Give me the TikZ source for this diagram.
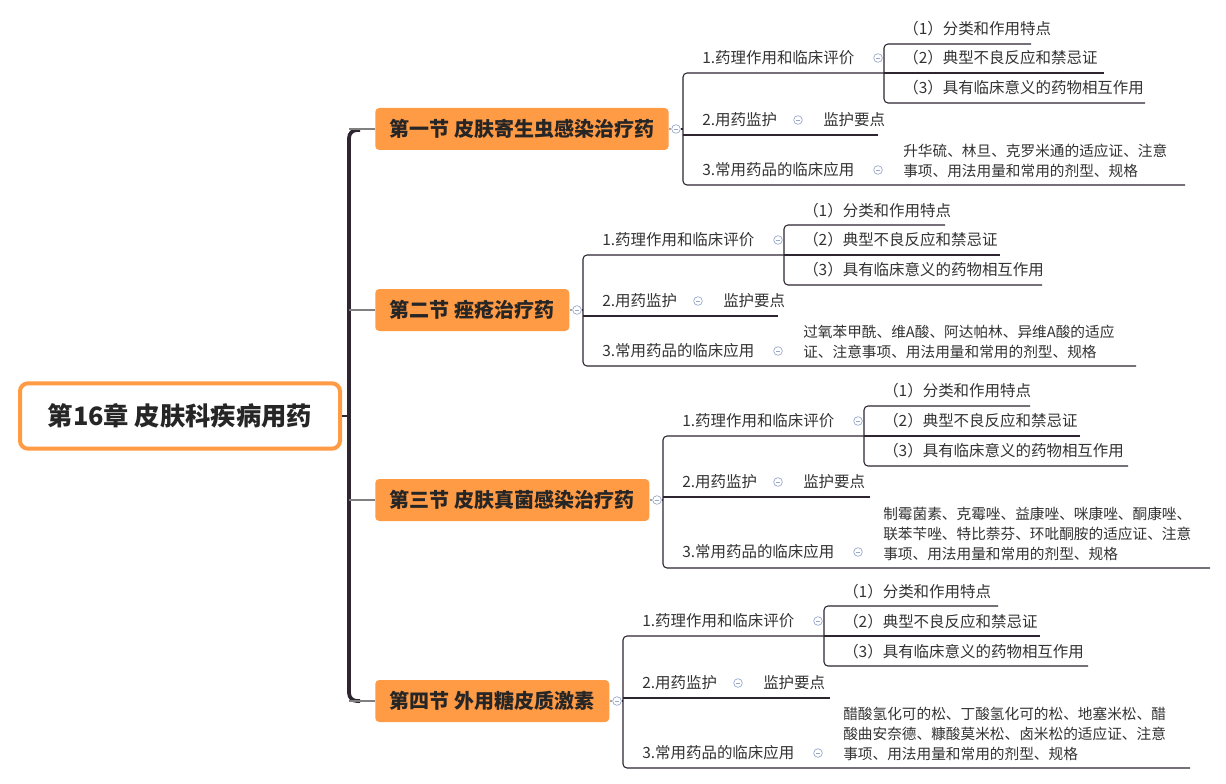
\documentclass[tikz,border=0pt]{standalone}
\usepackage{fontspec}
\setmainfont{Noto Sans CJK SC}
\definecolor{orng}{RGB}{255,154,69}
\definecolor{dk}{RGB}{45,38,48}
\definecolor{icoc}{RGB}{150,165,200}
\begin{document}
\begin{tikzpicture}[x=0.75pt,y=-0.75pt,
  txt/.style={anchor=west,inner sep=0pt,text=black!80,font=\fontsize{11.6pt}{16pt}\selectfont},
  mtxt/.style={anchor=west,inner sep=0pt,text=black!80,align=left,font=\fontsize{11pt}{15pt}\selectfont},
  sec/.style={anchor=west,fill=orng,rounded corners=3pt,inner sep=0pt,minimum height=31.5pt,text=black!85,font=\bfseries\fontsize{15pt}{18pt}\selectfont},
  ln/.style={draw=dk,line width=0.8pt},
  ico/.style={circle,draw=icoc,line width=0.5pt,minimum size=6.5pt,inner sep=0pt,fill=white,
    path picture={\draw[icoc,line width=0.5pt] ([xshift=-1.5pt]path picture bounding box.center)--([xshift=1.5pt]path picture bounding box.center);}}]
\useasboundingbox (0,0) rectangle (1226,784);
\fill[white] (0,0) rectangle (1226,784);
% root
\node[draw=orng,line width=3pt,rounded corners=6pt,minimum width=240pt,minimum height=49pt,inner sep=0pt,text=black!85,font=\bfseries\fontsize{19pt}{24pt}\selectfont] (root) at (180,416) {第16章 皮肤科疾病用药};
% trunk
\coordinate (t1) at (349,130); \coordinate (t4) at (349,701);
\draw[ln,line width=2.8pt,rounded corners=6pt] (360,130) -- (t1) -- (t4) -- (360,701);
\draw[ln] (root.east) -- (349,416);
% sections
\node[sec,minimum width=220pt] (s1) at (375,129) {第一节 皮肤寄生虫感染治疗药};
\node[sec,minimum width=145.5pt] (s2) at (375,310) {第二节 痤疮治疗药};
\node[sec,minimum width=205.5pt] (s3) at (375,500) {第三节 皮肤真菌感染治疗药};
\node[sec,minimum width=175.5pt] (s4) at (375,701) {第四节 外用糖皮质激素};
\foreach \y/\n in {129/s1,310/s2,500/s3,701/s4}{\draw[ln,draw=gray] (349,\y) -- (\n.west);}
% Section 1
\node[ico] (s1i) at (676,129) {};
\draw[ln,draw=gray!70] (s1.east) -- (s1i);
\draw[ln] (s1i) -- (683,129);
\draw[ln,rounded corners=3pt] (884,73) -- (683,73) -- (683,185) -- (1185,185);
\draw[ln] (683,135) -- (878,135);
\node[txt] (a1) at (702,58) {1.药理作用和临床评价}; \node[ico] at (878,58) {};
\node[txt] (a2) at (702,120) {2.用药监护}; \node[ico] at (798,120) {};
\node[txt] (a2b) at (823,120) {监护要点};
\node[txt] (a3) at (702,170) {3.常用药品的临床应用}; \node[ico] at (878,170) {};
\node[mtxt] (a3b) at (903,161) {升华硫、林旦、克罗米通的适应证、注意\\事项、用法用量和常用的剂型、规格};
\draw[ln,rounded corners=3pt] (1031,44) -- (884,44) -- (884,103) -- (1145,103);
\draw[ln] (884,73) -- (1104,73);
\node[txt] at (903,29) {（1）分类和作用特点};
\node[txt] at (903,58) {（2）典型不良反应和禁忌证};
\node[txt] at (903,88) {（3）具有临床意义的药物相互作用};
% Section 2
\node[ico] (s2i) at (577,310) {};
\draw[ln,draw=gray!70] (s2.east) -- (s2i);
\draw[ln] (s2i) -- (583,310);
\draw[ln,rounded corners=3pt] (784,255) -- (583,255) -- (583,366) -- (1136,366);
\draw[ln] (583,316) -- (778,316);
\node[txt] at (602,240) {1.药理作用和临床评价}; \node[ico] at (778,240) {};
\node[txt] at (602,301) {2.用药监护}; \node[ico] at (698,301) {};
\node[txt] at (723,301) {监护要点};
\node[txt] at (602,351) {3.常用药品的临床应用}; \node[ico] at (778,351) {};
\node[mtxt] at (803,342) {过氧苯甲酰、维A酸、阿达帕林、异维A酸的适应\\证、注意事项、用法用量和常用的剂型、规格};
\draw[ln,rounded corners=3pt] (945,225) -- (784,225) -- (784,285) -- (1042,285);
\draw[ln] (784,255) -- (1000,255);
\node[txt] at (803,211) {（1）分类和作用特点};
\node[txt] at (803,240) {（2）典型不良反应和禁忌证};
\node[txt] at (803,270) {（3）具有临床意义的药物相互作用};
% Section 3
\node[ico] (s3i) at (657,500) {};
\draw[ln,draw=gray!70] (s3.east) -- (s3i);
\draw[ln] (s3i) -- (663,500);
\draw[ln,rounded corners=3pt] (864,436) -- (663,436) -- (663,568) -- (1210,568);
\draw[ln] (663,497) -- (870,497);
\node[txt] at (682,421) {1.药理作用和临床评价}; \node[ico] at (858,421) {};
\node[txt] at (682,482) {2.用药监护}; \node[ico] at (778,482) {};
\node[txt] at (803,482) {监护要点};
\node[txt] at (682,552) {3.常用药品的临床应用}; \node[ico] at (858,552) {};
\node[mtxt] at (883,534) {制霉菌素、克霉唑、益康唑、咪康唑、酮康唑、\\联苯苄唑、特比萘芬、环吡酮胺的适应证、注意\\事项、用法用量和常用的剂型、规格};
\draw[ln,rounded corners=3pt] (1030,406) -- (864,406) -- (864,466) -- (1128,466);
\draw[ln] (864,436) -- (1080,436);
\node[txt] at (883,391) {（1）分类和作用特点};
\node[txt] at (883,421) {（2）典型不良反应和禁忌证};
\node[txt] at (883,451) {（3）具有临床意义的药物相互作用};
% Section 4
\node[ico] (s4i) at (617,701) {};
\draw[ln,draw=gray!70] (s4.east) -- (s4i);
\draw[ln] (s4i) -- (623,701);
\draw[ln,rounded corners=3pt] (824,636) -- (623,636) -- (623,768) -- (1190,768);
\draw[ln] (623,698) -- (830,698);
\node[txt] at (642,621) {1.药理作用和临床评价}; \node[ico] at (818,621) {};
\node[txt] at (642,683) {2.用药监护}; \node[ico] at (738,683) {};
\node[txt] at (763,683) {监护要点};
\node[txt] at (642,753) {3.常用药品的临床应用}; \node[ico] at (818,753) {};
\node[mtxt] at (843,734) {醋酸氢化可的松、丁酸氢化可的松、地塞米松、醋\\酸曲安奈德、糠酸莫米松、卤米松的适应证、注意\\事项、用法用量和常用的剂型、规格};
\draw[ln,rounded corners=3pt] (998,606) -- (824,606) -- (824,666) -- (1088,666);
\draw[ln] (824,636) -- (1040,636);
\node[txt] at (843,592) {（1）分类和作用特点};
\node[txt] at (843,622) {（2）典型不良反应和禁忌证};
\node[txt] at (843,652) {（3）具有临床意义的药物相互作用};
\end{tikzpicture}
\end{document}
